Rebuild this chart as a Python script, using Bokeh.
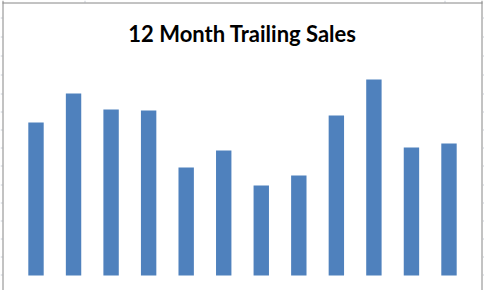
from bokeh.plotting import figure
from bokeh.models import Range1d, Span, ColumnDataSource
from bokeh.core.properties import value
from bokeh.embed import file_html
from bokeh.resources import INLINE

# Trailing twelve months of sales (in $k)
months = ["Jan", "Feb", "Mar", "Apr", "May", "Jun",
          "Jul", "Aug", "Sep", "Oct", "Nov", "Dec"]
sales = [153, 182, 166, 165, 108, 125, 90, 100, 160, 196, 128, 132]
title_text = "12 Month Trailing Sales"

W, H = 484, 290
BAR_STEP = 37.545            # px between neighbouring bars
X0 = 1 - 35.5 / BAR_STEP     # left edge of the canvas in x units
X1 = X0 + W / BAR_STEP

def sx(px):
    """Screen x pixel -> x data coordinate."""
    return X0 + px / BAR_STEP

def sy(py):
    """Screen y pixel (from top) -> y data coordinate."""
    return 275 - py

p = figure(width=W, height=H, output_backend="svg", toolbar_location=None,
           x_range=Range1d(X0, X1), y_range=Range1d(-15, 275),
           min_border=0, min_border_left=0, min_border_right=0,
           min_border_top=0, min_border_bottom=0)
p.axis.visible = False
p.grid.visible = False
p.outline_line_color = None
p.background_fill_color = "white"
p.border_fill_color = "white"

# spreadsheet cell grid peeking out around the chart object
grid_rows = [17, 36, 55, 74, 93, 111, 129, 147, 165, 184, 202, 220, 238, 256, 274]
grid_color = "#c8cdd6"
p.segment(x0=[sx(0)] * len(grid_rows), x1=[sx(2)] * len(grid_rows),
          y0=[sy(r + 0.5) for r in grid_rows], y1=[sy(r + 0.5) for r in grid_rows],
          line_color=grid_color, line_width=1)
p.segment(x0=[sx(482.5)] * len(grid_rows), x1=[sx(484)] * len(grid_rows),
          y0=[sy(r + 0.5) for r in grid_rows], y1=[sy(r + 0.5) for r in grid_rows],
          line_color=grid_color, line_width=1)
p.segment(x0=[sx(84.5), sx(444.5)], x1=[sx(84.5), sx(444.5)],
          y0=[sy(0), sy(0)], y1=[sy(2), sy(2)],
          line_color=grid_color, line_width=1)

# chart object border
border = "#868686"
p.add_layout(Span(location=sx(2.5), dimension="height", line_color=border, line_width=1))
p.add_layout(Span(location=sx(481.5), dimension="height", line_color=border, line_width=1))
p.segment(x0=[sx(2)], x1=[sx(482)], y0=[sy(2.5)], y1=[sy(2.5)],
          line_color=border, line_width=1)

src = ColumnDataSource(dict(x=list(range(1, len(months) + 1)), month=months, sales=sales))
p.vbar(x="x", top="sales", bottom=0, width=0.41, source=src,
       fill_color="#4f81bd", line_color=None)

p.text(x=[sx(242)], y=[sy(33)], text=[title_text],
       text_font=value("Lato"), text_font_style="bold", text_font_size="22px",
       text_align="center", text_baseline="alphabetic", text_color="black")

open("out.html", "w").write(file_html(p, INLINE))
